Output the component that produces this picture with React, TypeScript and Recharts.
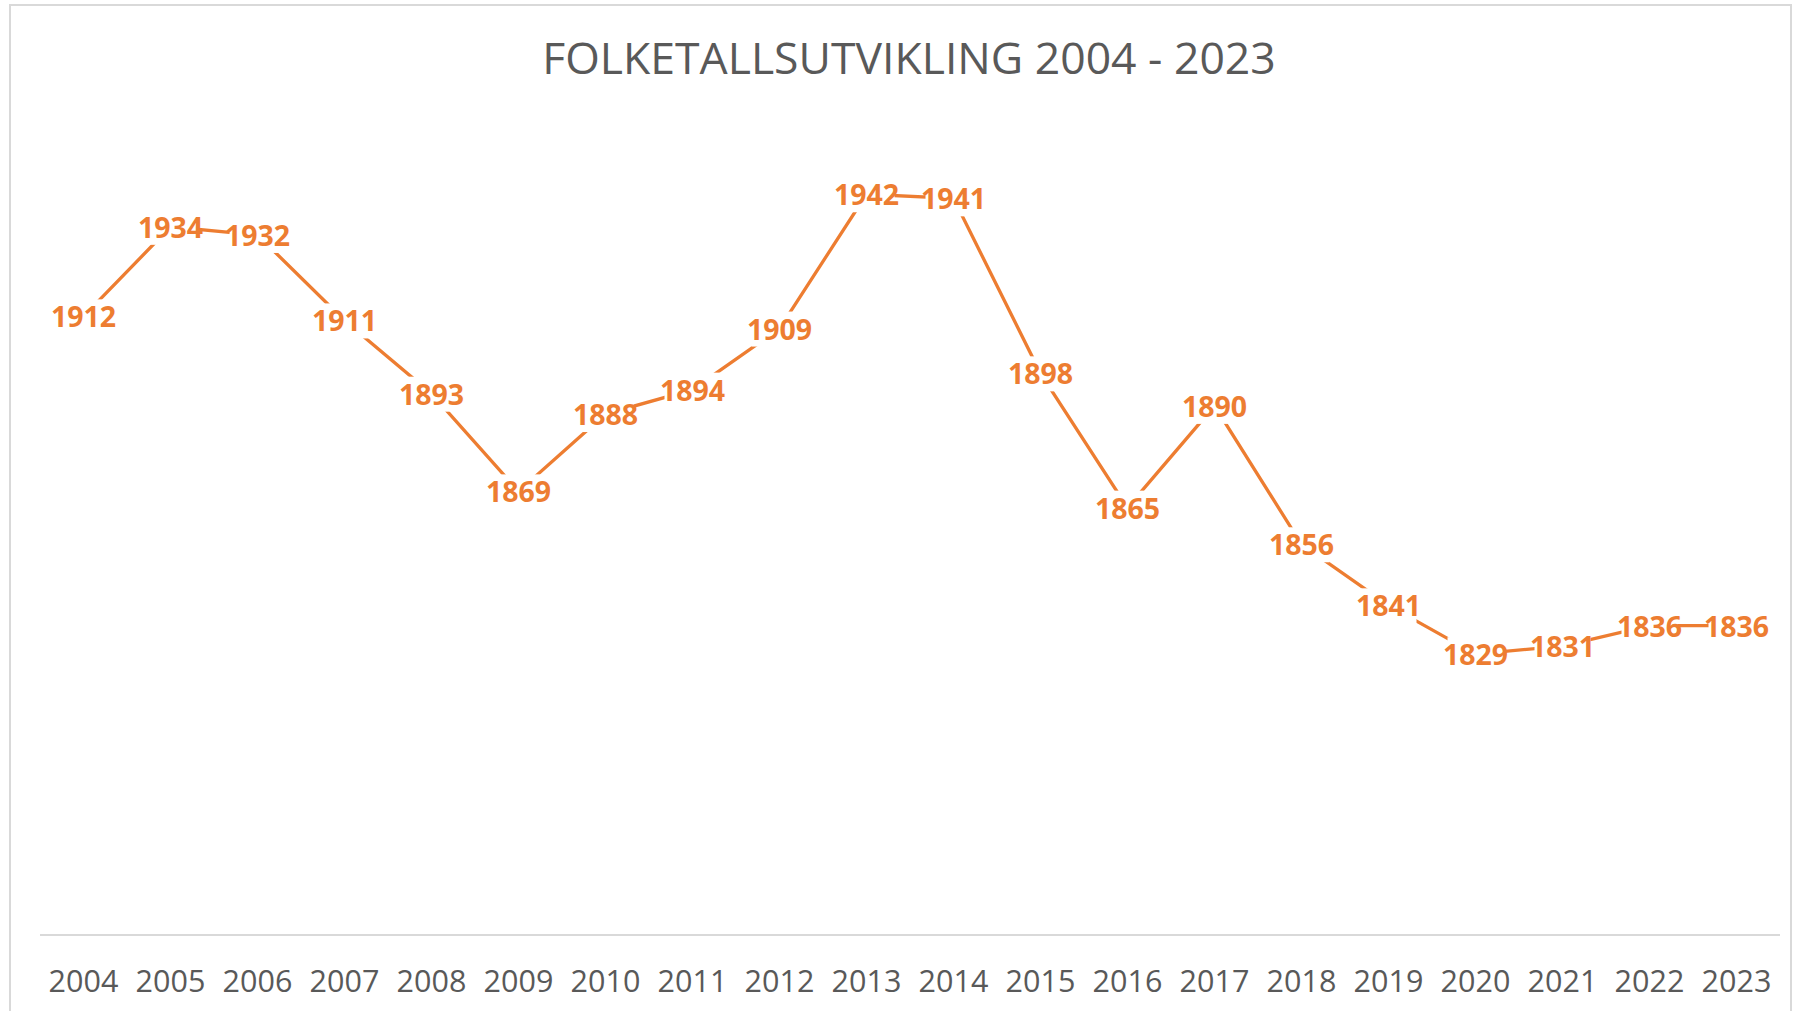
import React from 'react';
import { LineChart, Line, XAxis, YAxis, LabelList } from 'recharts';

const years = [
  '2004', '2005', '2006', '2007', '2008', '2009', '2010', '2011', '2012', '2013',
  '2014', '2015', '2016', '2017', '2018', '2019', '2020', '2021', '2022', '2023',
];
const population = [
  1912, 1934, 1932, 1911, 1893, 1869, 1888, 1894, 1909, 1942,
  1941, 1898, 1865, 1890, 1856, 1841, 1829, 1831, 1836, 1836,
];
const yDomain = [1760, 1960];
const title = 'FOLKETALLSUTVIKLING 2004 - 2023';

const ORANGE = '#ED7D31';
const GREY = '#595959';
const FONT = '"Open Sans", sans-serif';

const data = years.map((year, i) => ({ year, value: population[i] }));

// Excel-style centred data label: a white box knocks the line out behind the number
const PointLabel = (props: any) => {
  const { x, y, value } = props;
  return (
    <g>
      <rect x={x - 28} y={y - 17} width={56} height={35} fill="#fff" />
      <text
        x={x}
        y={y + 11}
        textAnchor="middle"
        fill={ORANGE}
        fontFamily={FONT}
        fontWeight={700}
        fontSize={28.5}
      >
        {value}
      </text>
    </g>
  );
};

export default function App() {
  return (
    <div style={{ position: 'absolute', left: 0, top: 0, width: 1794, height: 1011, background: '#fff' }}>
      <div
        style={{
          position: 'absolute',
          left: 9,
          top: 4,
          width: 1783,
          height: 1007,
          boxSizing: 'border-box',
          borderTop: '2px solid #d9d9d9',
          borderLeft: '2px solid #d9d9d9',
          borderRight: '2px solid #d9d9d9',
        }}
      />
      <svg style={{ position: 'absolute', left: 0, top: 0 }} width={1794} height={110}>
        <text x={909} y={73.5} textAnchor="middle" fill={GREY} fontFamily={FONT} fontSize={44.5}>
          {title}
        </text>
      </svg>
      <div style={{ position: 'absolute', left: 0, top: 0 }}>
        <LineChart
          width={1794}
          height={1011}
          data={data}
          margin={{ top: 121, right: 14, bottom: 0, left: 40 }}
        >
          <XAxis
            dataKey="year"
            height={76}
            padding={{ left: 43.5, right: 43.5 }}
            axisLine={{ stroke: '#d9d9d9', strokeWidth: 2 }}
            tickLine={false}
            tickSize={0}
            tickMargin={35}
            interval={0}
            tick={{ fill: GREY, fontSize: 30.5, fontFamily: FONT }}
          />
          <YAxis hide domain={yDomain} />
          <Line
            type="linear"
            dataKey="value"
            stroke={ORANGE}
            strokeWidth={3.3}
            dot={false}
            activeDot={false}
            isAnimationActive={false}
          >
            <LabelList dataKey="value" content={<PointLabel />} />
          </Line>
        </LineChart>
      </div>
    </div>
  );
}
